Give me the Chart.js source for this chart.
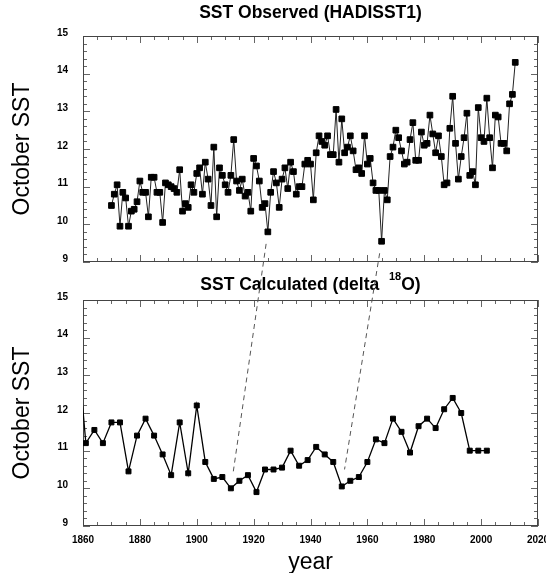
<!DOCTYPE html>
<html>
<head>
<meta charset="utf-8">
<script src="https://cdn.jsdelivr.net/npm/chart.js@4.4.1/dist/chart.umd.min.js"></script>
<style>
  html, body { margin: 0; padding: 0; background: #fff; }
  #page { position: relative; width: 546px; height: 573px; overflow: hidden; }
  #page canvas { position: absolute; left: 0; }
  #obs { top: 0; }
  #calc { top: 270px; }
  #links { top: 0; pointer-events: none; }
</style>
</head>
<body>
<div id="page">
  <canvas id="obs" width="546" height="270"></canvas>
  <canvas id="calc" width="546" height="303"></canvas>
  <canvas id="links" width="546" height="573"></canvas>
</div>
<script>
// October SST from HadISST1, one value a year starting 1870
var obsFirstYear = 1870;
var obsSST = [
  10.5, 10.8, 11.05, 9.95, 10.85, 10.7, 9.95, 10.35, 10.4, 10.6,
  11.15, 10.85, 10.85, 10.2, 11.25, 11.25, 10.85, 10.85, 10.05, 11.1,
  11.05, 11.0, 10.95, 10.85, 11.45, 10.35, 10.55, 10.45, 11.05, 10.85,
  11.35, 11.5, 10.8, 11.65, 11.2, 10.5, 12.05, 10.2, 11.5, 11.3,
  11.05, 10.85, 11.3, 12.25, 11.15, 10.9, 11.2, 10.75, 10.85, 10.35,
  11.75, 11.55, 11.15, 10.45, 10.55, 9.8, 10.85, 11.4, 11.1, 10.45,
  11.2, 11.5, 10.95, 11.65, 11.4, 10.8, 11.0, 11.0, 11.6, 11.7,
  11.6, 10.65, 11.9, 12.35, 12.2, 12.1, 12.35, 11.85, 11.85, 13.05,
  11.65, 12.8, 11.9, 12.05, 12.35, 11.95, 11.45, 11.5, 11.35, 12.35,
  11.6, 11.75, 11.1, 10.9, 10.9, 9.55, 10.9, 10.65, 11.8, 12.05,
  12.5, 12.3, 11.95, 11.6, 11.65, 12.25, 12.7, 11.7, 11.7, 12.45,
  12.1, 12.15, 12.9, 12.4, 11.9, 12.35, 11.8, 11.05, 11.1, 12.55,
  13.4, 12.15, 11.2, 11.8, 12.3, 12.95, 11.3, 11.4, 11.05, 13.1,
  12.3, 12.2, 13.35, 12.3, 11.5, 12.9, 12.85, 12.15, 12.15, 11.95,
  13.2, 13.45, 14.3
];

// October SST calculated from delta 18O, every third year
var calcYears = [
  1858, 1861, 1864, 1867, 1870, 1873, 1876, 1879, 1882, 1885,
  1888, 1891, 1894, 1897, 1900, 1903, 1906, 1909, 1912, 1915,
  1918, 1921, 1924, 1927, 1930, 1933, 1936, 1939, 1942, 1945,
  1948, 1951, 1954, 1957, 1960, 1963, 1966, 1969, 1972, 1975,
  1978, 1981, 1984, 1987, 1990, 1993, 1996, 1999, 2002
];
var calcSST = [
  13.8, 11.2, 11.55, 11.2, 11.75, 11.75, 10.45, 11.4, 11.85, 11.4,
  10.9, 10.35, 11.75, 10.4, 12.2, 10.7, 10.25, 10.3, 10.0, 10.2,
  10.35, 9.9, 10.5, 10.5, 10.55, 11.0, 10.6, 10.75, 11.1, 10.9,
  10.7, 10.05, 10.2, 10.3, 10.7, 11.3, 11.2, 11.85, 11.5, 10.95,
  11.65, 11.85, 11.6, 12.1, 12.4, 12.0, 11.0, 11.0, 11.0
];

var xTicks = [1860, 1880, 1900, 1920, 1940, 1960, 1980, 2000, 2020];
var yTicks = [9, 10, 11, 12, 13, 14, 15];

// cold years joined across the panels: [observed year, calculated year]
var linkYears = [[1925, 1912], [1965, 1951]];

var fam = "'Liberation Sans', Arial, sans-serif";
Chart.defaults.font.family = fam;
Chart.defaults.color = '#000';

var obsPoints = obsSST.map(function (v, i) { return {x: obsFirstYear + i, y: v}; });
var calcPoints = calcSST.map(function (v, i) { return {x: calcYears[i], y: v}; });

// box round the plot with small inward ticks on all four sides
var frame = {
  id: 'frame',
  beforeDatasetsDraw: function (chart) {
    var a = chart.chartArea, xs = chart.scales.x, ys = chart.scales.y, ctx = chart.ctx;
    ctx.save();
    ctx.strokeStyle = '#666';
    ctx.lineWidth = 1;
    ctx.beginPath();
    for (var yr = 1860; yr <= 2020; yr += 5) {
      var px = Math.round(xs.getPixelForValue(yr)) + 0.5;
      var len = yr % 20 === 0 ? 7 : 4;
      ctx.moveTo(px, a.bottom); ctx.lineTo(px, a.bottom - len);
      ctx.moveTo(px, a.top); ctx.lineTo(px, a.top + len);
    }
    for (var k = 0; k <= 30; k++) {
      var py = Math.round(ys.getPixelForValue(9 + k * 0.2)) + 0.5;
      var ln = k % 5 === 0 ? 7 : 4;
      ctx.moveTo(a.left, py); ctx.lineTo(a.left + ln, py);
      ctx.moveTo(a.right, py); ctx.lineTo(a.right - ln, py);
    }
    ctx.stroke();
    ctx.strokeStyle = '#444';
    ctx.strokeRect(a.left + 0.5, a.top + 0.5, a.right - a.left - 1, a.bottom - a.top - 1);
    ctx.restore();
  }
};

// panel heading, parts flagged sup are set small and raised
var heading = {
  id: 'heading',
  afterDraw: function (chart, args, opts) {
    var ctx = chart.ctx, a = chart.chartArea;
    var big = 'bold 17.5px ' + fam, small = 'bold 11px ' + fam;
    ctx.save();
    ctx.fillStyle = '#000';
    ctx.textBaseline = 'middle';
    var w = 0;
    opts.parts.forEach(function (p) {
      ctx.font = p.sup ? small : big;
      w += ctx.measureText(p.text).width;
    });
    var x = (a.left + a.right) / 2 - w / 2;
    opts.parts.forEach(function (p) {
      ctx.font = p.sup ? small : big;
      ctx.fillText(p.text, x, opts.y - (p.sup ? 8 : 0));
      x += ctx.measureText(p.text).width;
    });
    ctx.restore();
  }
};

function yAxis() {
  return {
    min: 9, max: 15,
    grid: {display: false, drawTicks: false},
    border: {display: false},
    afterBuildTicks: function (s) { s.ticks = yTicks.map(function (v) { return {value: v}; }); },
    afterFit: function (s) { s.width = 83; s.paddingTop = 0; s.paddingBottom = 0; },
    ticks: {font: {size: 10, weight: 'bold'}, color: '#000', padding: 15, labelOffset: -3},
    title: {display: true, text: 'October SST', color: '#000',
            font: {size: 23, lineHeight: 1}, padding: {top: 11, bottom: 0}}
  };
}

function xAxis(show) {
  return {
    type: 'linear', min: 1860, max: 2020,
    display: show,
    grid: {display: false, drawTicks: false},
    border: {display: false},
    afterBuildTicks: function (s) { s.ticks = xTicks.map(function (v) { return {value: v}; }); },
    afterFit: function (s) { if (show) s.height = 47; s.paddingLeft = 0; s.paddingRight = 0; },
    ticks: {font: {size: 10, weight: 'bold'}, color: '#000', padding: 8,
            maxRotation: 0, autoSkip: false,
            callback: function (v) { return String(v); }},
    title: {display: show, text: 'year', color: '#000',
            font: {size: 23, lineHeight: 0.87}, padding: {top: 0, bottom: 0}}
  };
}

var obsChart = new Chart(document.getElementById('obs'), {
  type: 'line',
  data: {
    datasets: [{
      data: obsPoints,
      borderColor: '#222',
      borderWidth: 1,
      pointStyle: 'rect',
      pointRadius: 4,
      pointBorderWidth: 1,
      pointBackgroundColor: '#000',
      pointBorderColor: '#000',
      tension: 0
    }]
  },
  options: {
    responsive: false,
    animation: false,
    devicePixelRatio: 1,
    layout: {padding: {top: 36, right: 8, bottom: 8, left: 0}},
    scales: {x: xAxis(false), y: yAxis()},
    plugins: {
      legend: {display: false},
      tooltip: {enabled: false},
      heading: {y: 13, parts: [{text: 'SST Observed (HADISST1)'}]}
    }
  },
  plugins: [frame, heading]
});

var calcChart = new Chart(document.getElementById('calc'), {
  type: 'line',
  data: {
    datasets: [{
      data: calcPoints,
      borderColor: '#000',
      borderWidth: 1.3,
      pointStyle: 'rect',
      pointRadius: 3.5,
      pointBorderWidth: 1,
      pointBackgroundColor: '#000',
      pointBorderColor: '#000',
      tension: 0
    }]
  },
  options: {
    responsive: false,
    animation: false,
    devicePixelRatio: 1,
    layout: {padding: {top: 30, right: 8, bottom: 0, left: 0}},
    scales: {x: xAxis(true), y: yAxis()},
    plugins: {
      legend: {display: false},
      tooltip: {enabled: false},
      heading: {y: 15, parts: [{text: 'SST Calculated (delta  '}, {text: '18', sup: true}, {text: 'O)'}]}
    }
  },
  plugins: [frame, heading]
});

// dashed links from each observed cold year down to its calculated counterpart
(function drawLinks() {
  var ctx = document.getElementById('links').getContext('2d');
  var calcTop = document.getElementById('calc').offsetTop;
  ctx.strokeStyle = '#555';
  ctx.lineWidth = 1;
  ctx.setLineDash([5, 4]);
  linkYears.forEach(function (pair) {
    var x0 = obsChart.scales.x.getPixelForValue(pair[0]);
    var y0 = obsChart.scales.y.getPixelForValue(obsSST[pair[0] - obsFirstYear]);
    var x1 = calcChart.scales.x.getPixelForValue(pair[1]);
    var y1 = calcChart.scales.y.getPixelForValue(calcSST[calcYears.indexOf(pair[1])]) + calcTop;
    var ya = y0 + 12, yb = y1 - 17;
    var xa = x0 + (x1 - x0) * (ya - y0) / (y1 - y0);
    var xb = x0 + (x1 - x0) * (yb - y0) / (y1 - y0);
    ctx.beginPath();
    ctx.moveTo(xa, ya);
    ctx.lineTo(xb, yb);
    ctx.stroke();
  });
})();
</script>
</body>
</html>
